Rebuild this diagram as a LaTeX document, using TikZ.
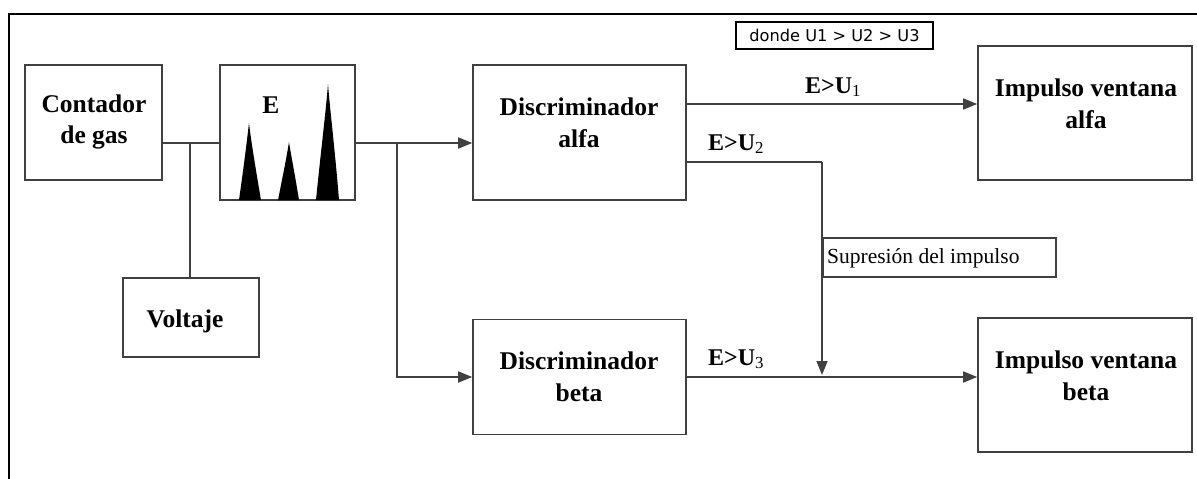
\documentclass[tikz,border=0pt]{standalone}
\usepackage{fontspec}
\setmainfont{Liberation Serif}
\newfontfamily\sansf{DejaVu Sans}
\usetikzlibrary{arrows.meta}
\tikzset{
  blk/.style={draw=black!75, line width=1.6pt, inner sep=0pt, fill=none},
  lbl/.style={font=\fontsize{25.5}{31.5}\selectfont\bfseries, align=center, inner sep=0pt},
  elbl/.style={font=\fontsize{24}{31}\selectfont\bfseries, inner sep=0pt, anchor=base west},
  wire/.style={draw=black!75, line width=1.6pt},
  arr/.style={wire, -{Triangle[length=14pt,width=11pt]}},
}
\begin{document}
\begin{tikzpicture}[x=1pt,y=-1pt]
\useasboundingbox (0,0) rectangle (1197,479);
\fill[white] (0,0) rectangle (1197,479);
% frame
\draw[black, line width=2pt] (9,479) -- (9,14) -- (1197,14);

% boxes
\node[blk, minimum width=137pt, minimum height=115pt] (cont) at (93.5,122.5) {};
\node[blk, minimum width=136pt, minimum height=79pt] (volt) at (191,317.5) {};
\node[blk, minimum width=135pt, minimum height=135pt] (ebox) at (287.5,132.5) {};
\node[blk, minimum width=213pt, minimum height=135pt] (dalfa) at (579.5,132.5) {};
\node[blk, minimum width=213pt, minimum height=115pt] (dbeta) at (579.5,377) {};
\node[blk, minimum width=214pt, minimum height=134pt] (ialfa) at (1085,113) {};
\node[blk, minimum width=214pt, minimum height=134pt] (ibeta) at (1085,385) {};
\node[blk, minimum width=233pt, minimum height=39pt] (supr) at (939.5,257.5) {};
\node[draw=black, line width=2.4pt, minimum width=197pt, minimum height=27pt, inner sep=0pt,
      font=\sansf\fontsize{16.2}{18}\selectfont] (donde) at (834.5,35.5) {donde U1 > U2 > U3};

% texts
\node[lbl] (tcont) at (94,122) {Contador\\de gas};
\node[lbl, anchor=base] (tvolt) at (185,327) {Voltaje};
\node[lbl, anchor=base] (te) at (271,113) {E};
\node[lbl] (tdalfa) at (579,123) {Discriminador\\alfa};
\node[lbl] (tdbeta) at (579,377) {Discriminador\\beta};
\node[lbl] (tialfa) at (1086,104) {Impulso ventana\\alfa};
\node[lbl] (tibeta) at (1086,376) {Impulso ventana\\beta};
\node[inner sep=0pt, anchor=base west, font=\fontsize{21.5}{24}\selectfont] (tsupr) at (827,263) {Supresión del impulso};

% peaks
\fill[black] (239,200) .. controls (244,165) and (247,140) .. (249,123)
  .. controls (251,140) and (255,165) .. (261,200) -- cycle;
\fill[black] (278,200) .. controls (283,175) and (287,155) .. (289,142)
  .. controls (291,155) and (295,175) .. (299,200) -- cycle;
\fill[black] (316,200) .. controls (321,150) and (326,110) .. (328,84)
  .. controls (330,110) and (335,150) .. (339,200) -- cycle;

% connectors
\coordinate (j1) at (190,143);
\draw[wire] (j1 -| cont.east) -- (j1) -- (j1 -| ebox.west);
\draw[wire] (j1) -- (j1 |- volt.north);
\coordinate (j2) at (397,143);
\draw[wire] (j2 -| ebox.east) -- (j2);
\draw[arr] (j2) -- (j2 -| dalfa.west);
\draw[arr] (j2) |- (dbeta.west);

\coordinate (a1) at (700,104);
\draw[arr] (a1 -| dalfa.east) -- (a1 -| ialfa.west);
\coordinate (j3) at (822,162);
\coordinate (j4) at (822,375);
\draw[wire] (j3 -| dalfa.east) -- (j3);
\draw[arr] (j3) -- (j4);
\draw[arr] (dbeta.east) -- (dbeta.east -| ibeta.west);

% edge labels
\node[elbl] (l1) at (805,93) {E>U\textsubscript{\mdseries 1}};
\node[elbl] (l2) at (708,150) {E>U\textsubscript{\mdseries 2}};
\node[elbl] (l3) at (708,365) {E>U\textsubscript{\mdseries 3}};
\end{tikzpicture}
\end{document}
